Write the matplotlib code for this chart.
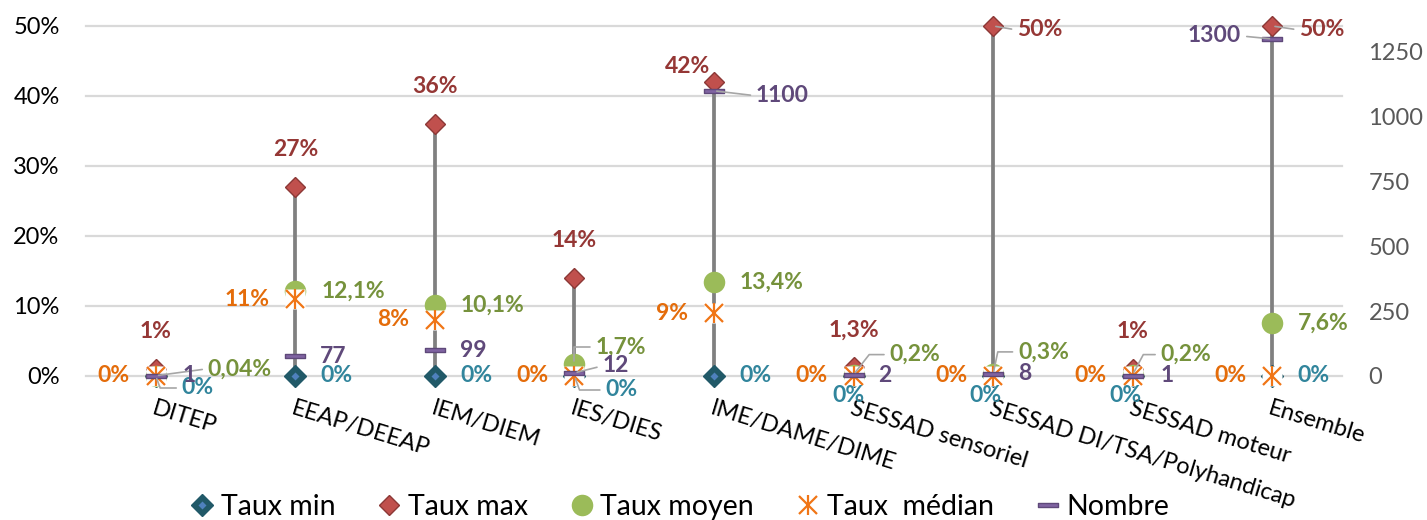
import matplotlib
matplotlib.use('Agg')
import matplotlib.pyplot as plt
from matplotlib.path import Path
from matplotlib.lines import Line2D
from matplotlib.legend_handler import HandlerTuple
import numpy as np

# ---------------- data ----------------
categories = ["DITEP", "EEAP/DEEAP", "IEM/DIEM", "IES/DIES", "IME/DAME/DIME",
              "SESSAD sensoriel", "SESSAD DI/TSA/Polyhandicap", "SESSAD moteur", "Ensemble"]
taux_min = [0, 0, 0, 0, 0, 0, 0, 0, 0]
taux_max = [1, 27, 36, 14, 42, 1.3, 50, 1, 50]
taux_moyen = [0.04, 12.1, 10.1, 1.7, 13.4, 0.2, 0.3, 0.2, 7.6]
taux_median = [0, 11, 8, 0, 9, 0, 0, 0, 0]
nombre = [1, 77, 99, 12, 1100, 2, 8, 1, 1300]
left_ticks = [0, 10, 20, 30, 40, 50]
right_ticks = [0, 250, 500, 750, 1000, 1250]
legend_labels = ["Taux min", "Taux max", "Taux moyen", "Taux  médian", "Nombre"]

plt.rcParams['font.family'] = ['Lato', 'DejaVu Sans']

W, H = 1427, 520
fig = plt.figure(figsize=(W / 100, H / 100), dpi=100)
ax = fig.add_axes([86 / W, 1 - 376 / H, (1342 - 86) / W, 350 / H])
ax2 = ax.twinx()

x = np.arange(len(categories))
ax.set_xlim(-0.5, len(categories) - 0.5)
ax.set_ylim(0, 50)
ax2.set_ylim(0, 1350)

for a in (ax, ax2):
    for s in a.spines.values():
        s.set_visible(False)
ax.set_xticks([])
ax.set_yticks(left_ticks)
ax.set_yticklabels([f"{v}%" for v in left_ticks])
ax.tick_params(axis='y', length=0, pad=19, labelsize=17, labelcolor='#000000')
ax2.set_yticks(right_ticks)
ax2.set_yticklabels([str(v) for v in right_ticks])
ax2.tick_params(axis='y', length=0, pad=19, labelsize=17, labelcolor='#595959')
ax.yaxis.grid(True, color='#d9d9d9', lw=1.6)
ax.set_axisbelow(True)
for gl in ax.get_ygridlines():
    gl.set_clip_on(False)

# high-low lines
ax.vlines(x, taux_min, taux_max, color='#808080', lw=2.7, zorder=2)

# markers
ax.plot(x, taux_min, ls='none', marker='D', ms=11.5, mfc='#215968', mec='#215968', zorder=3, clip_on=False)
ax.plot(x, taux_min, ls='none', marker='D', ms=4.5, mfc='#4f81bd', mec='none', zorder=3.1, clip_on=False)
ax.plot(x, taux_max, ls='none', marker='D', ms=10, mfc='#c0504d', mec='#8c3836', mew=1, zorder=3.2, clip_on=False)
ax.plot(x, taux_moyen, ls='none', marker='o', ms=15.5, mfc='#9bbb59', mec='none', zorder=3.3, clip_on=False)
ax.plot(x, taux_median, ls='none', marker='s', ms=14.4, mfc='white', mec='none', zorder=3.4, clip_on=False)
ax.plot(x, taux_median, ls='none', marker='x', ms=12.5, mec='#f07516', mew=1.6, zorder=3.5, clip_on=False)
ax.plot(x, taux_median, ls='none', marker='|', ms=14.4, mec='#f07516', mew=1.6, zorder=3.5, clip_on=False)

bar_path = Path([(-1, -0.22), (1, -0.22), (1, 0.22), (-1, 0.22), (-1, -0.22)],
                [Path.MOVETO, Path.LINETO, Path.LINETO, Path.LINETO, Path.CLOSEPOLY])
ax2.plot(x, nombre, ls='none', marker=bar_path, ms=14.4, mfc='#8064a2', mec='#5f497a', mew=1,
         zorder=3, clip_on=False)


def fr(v, suffix='%'):
    s = ('%g' % v).replace('.', ',')
    return s + suffix


PX = 0.72  # px -> points


def label(i, v, text, color, spec, trans):
    dx, dy, ha = spec[0], spec[1], spec[2]
    leader = spec[3] if len(spec) > 3 else None
    kw = {}
    if leader is not None:
        relx = 0 if ha == 'left' else (1 if ha == 'right' else 0.5)
        cs = 'arc3' if leader == 'straight' else f'angle,angleA=0,angleB={leader},rad=0'
        kw['arrowprops'] = dict(arrowstyle='-', color='#a6a6a6', lw=1.2, shrinkA=2, shrinkB=2,
                                relpos=(relx, 0.5), connectionstyle=cs)
    ax2.annotate(text, xy=(i, v), xycoords=trans, xytext=(dx * PX, -dy * PX),
                 textcoords='offset points', ha=ha, va='center', color=color,
                 fontsize=16.5, fontweight='bold', annotation_clip=False, zorder=10, **kw)


min_spec = {i: (25, 0, 'left') for i in x}
min_spec.update({0: (26, 12, 'left', 110), 3: (31, 14, 'left', 110),
                 5: (-5, 19, 'center'), 6: (-8, 19, 'center'), 7: (-7, 19, 'center')})
max_spec = {i: (0, -37, 'center') for i in x}
max_spec.update({4: (-26, -15, 'center'), 6: (24, 4, 'left', 'straight'), 8: (27, 4, 'left', 'straight')})
moy_spec = {i: (26, 0, 'left') for i in x}
moy_spec.update({0: (52, -7, 'left', 'straight'), 3: (21, -17, 'left', 90),
                 5: (36, -20, 'left', 52), 6: (25, -22, 'left', 78), 7: (28, -20, 'left', 62)})
med_spec = {i: (-26, 0, 'right') for i in x}
nb_spec = {i: (25, 0, 'left') for i in x}
nb_spec.update({0: (27, 0, 'left'), 3: (28, -7, 'left', 'straight'), 4: (42, 5, 'left', 'straight'),
                7: (28, 0, 'left'), 8: (-31, -3, 'right', 'straight')})

for i in x:
    label(i, taux_min[i], fr(taux_min[i]), '#31859c', min_spec[i], ax.transData)
    label(i, taux_max[i], fr(taux_max[i]), '#953735', max_spec[i], ax.transData)
    label(i, taux_moyen[i], fr(taux_moyen[i]), '#76923c', moy_spec[i], ax.transData)
    label(i, taux_median[i], fr(taux_median[i]), '#e46c0a', med_spec[i], ax.transData)
    label(i, nombre[i], fr(nombre[i], ''), '#5f497a', nb_spec[i], ax2.transData)

# category labels
for i, c in enumerate(categories):
    ax.annotate(c, xy=(i, 0), xycoords=ax.transData, xytext=(0 * PX, -22 * PX),
                textcoords='offset points', ha='left', va='top', rotation=-17,
                rotation_mode='anchor', fontsize=17, color='#000000', annotation_clip=False)

# legend
h_min = (Line2D([], [], ls='none', marker='D', ms=11.5, mfc='#215968', mec='#215968'),
         Line2D([], [], ls='none', marker='D', ms=4.5, mfc='#4f81bd', mec='none'))
h_max = Line2D([], [], ls='none', marker='D', ms=10, mfc='#c0504d', mec='#8c3836', mew=1)
h_moy = Line2D([], [], ls='none', marker='o', ms=15.5, mfc='#9bbb59', mec='none')
h_med = (Line2D([], [], ls='none', marker='x', ms=12.5, mec='#f07516', mew=1.6),
         Line2D([], [], ls='none', marker='|', ms=14.4, mec='#f07516', mew=1.6))
h_nb = Line2D([], [], ls='none', marker=bar_path, ms=14.4, mfc='#8064a2', mec='#5f497a', mew=1)
fig.legend([h_min, h_max, h_moy, h_med, h_nb], legend_labels,
           handler_map={tuple: HandlerTuple(ndivide=1, pad=0)},
           loc='center', bbox_to_anchor=(0.4765, 0.025), ncol=5, frameon=False,
           fontsize=20.5, handlelength=0.8, handletextpad=0.25, columnspacing=1.5,
           borderpad=0, borderaxespad=0)

fig.savefig('out.png', dpi=100)
